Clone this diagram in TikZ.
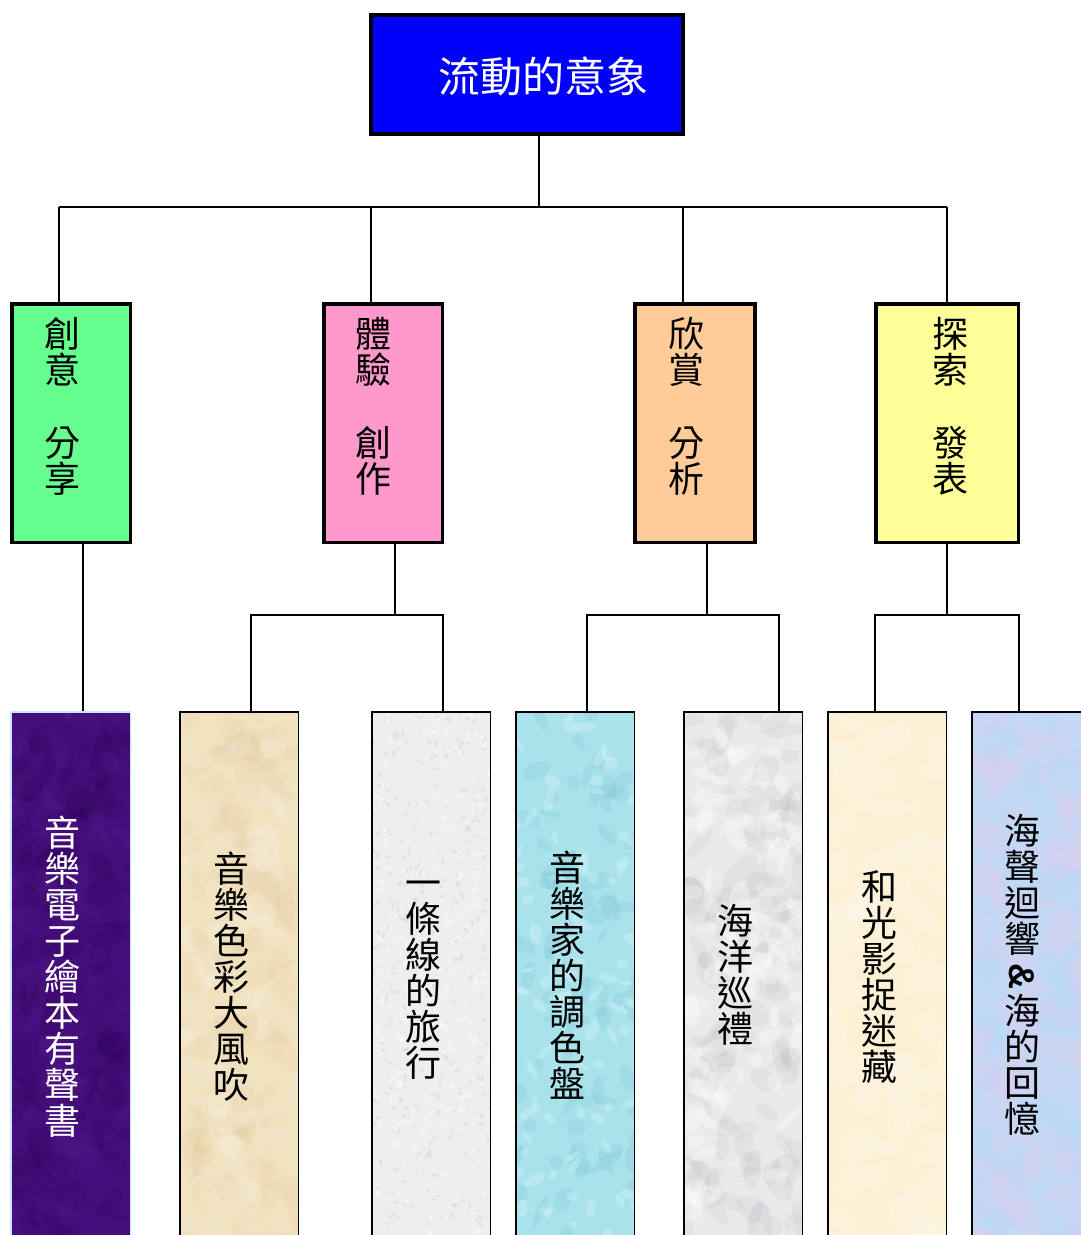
\documentclass[tikz,border=0pt]{standalone}
\usepackage{fontspec}
\newfontfamily\cjk{Noto Sans CJK TC}
\newfontfamily\latfont{Liberation Sans}
\definecolor{topblue}{RGB}{0,0,255}
\definecolor{cgreen}{RGB}{102,255,143}
\definecolor{cpink}{RGB}{255,153,204}
\definecolor{cpeach}{RGB}{255,204,153}
\definecolor{cyellow}{RGB}{255,255,153}
\definecolor{purpbase}{RGB}{70,14,124}
\definecolor{purpdark}{RGB}{40,0,82}
\definecolor{purplite}{RGB}{105,40,160}
\definecolor{beigebase}{RGB}{241,226,192}
\definecolor{beigedark}{RGB}{224,198,150}
\definecolor{granbase}{RGB}{238,238,238}
\definecolor{grandark}{RGB}{205,205,205}
\definecolor{aquabase}{RGB}{170,226,236}
\definecolor{aquadark}{RGB}{110,188,208}
\definecolor{aqualite}{RGB}{215,246,250}
\definecolor{marbbase}{RGB}{234,234,237}
\definecolor{marbdark}{RGB}{150,150,156}
\definecolor{creambase}{RGB}{253,240,212}
\definecolor{creamlite}{RGB}{255,249,236}
\definecolor{pastbase}{RGB}{198,215,244}
\definecolor{pastpink}{RGB}{232,200,238}
\definecolor{pastblue}{RGB}{175,222,250}
\definecolor{lowedge}{RGB}{200,230,250}
\tikzset{
  conn/.style={line width=1.8pt, black},
  topbox/.style={draw=black, line width=4pt, fill=topblue, minimum width=312pt, minimum height=119pt, inner sep=0pt},
  midbox/.style={draw=black, line width=3.5pt, minimum height=238.5pt, inner sep=0pt},
  lowbox/.style={draw=black, line width=1.5pt, minimum width=118.5pt, minimum height=531pt, inner sep=0pt},
  vtext/.style={font=\cjk\fontsize{36}{36}\selectfont, align=center, inner sep=0pt},
}
% texture helper: left x, width, colour, count, size, opacity
\newcommand\mottle[6]{%
  \begin{scope}
    \clip (#1,711) rectangle ({#1+#2},1243);
    \foreach \k in {1,...,#4}{
      \pgfmathsetmacro\px{#1+rnd*#2}
      \pgfmathsetmacro\py{711+rnd*532}
      \pgfmathsetmacro\rx{#5*(0.5+rnd)}
      \pgfmathsetmacro\ry{#5*(0.25+0.5*rnd)}
      \pgfmathsetmacro\ang{rnd*180}
      \fill[#3, opacity=#6, rotate around={\ang:(\px,\py)}] (\px,\py) ellipse [x radius=\rx pt, y radius=\ry pt];
    }
  \end{scope}}
\begin{document}
\begin{tikzpicture}[x=1pt,y=-1pt]
\useasboundingbox (0,0) rectangle (1081,1235);
\clip (0,0) rectangle (1081,1235);
\pgfmathsetseed{7}
% ---------- textured backgrounds of the lower boxes ----------
\fill[purpbase] (10,711) rectangle (131,1243);
\mottle{10}{121}{purpdark}{120}{22}{0.12}
\mottle{10}{121}{purplite}{80}{18}{0.1}
\fill[beigebase] (179,711) rectangle (299,1243);
\mottle{179}{120}{beigedark}{110}{20}{0.1}
\mottle{179}{120}{white}{80}{16}{0.12}
\fill[granbase] (371,711) rectangle (491,1243);
\mottle{371}{120}{grandark}{400}{2.5}{0.35}
\mottle{371}{120}{white}{250}{3}{0.45}
\fill[aquabase] (515,711) rectangle (635,1243);
\mottle{515}{120}{aquadark}{80}{12}{0.18}
\mottle{515}{120}{aqualite}{90}{8}{0.35}
\fill[marbbase] (683,711) rectangle (803,1243);
\mottle{683}{120}{marbdark}{120}{16}{0.09}
\mottle{683}{120}{white}{80}{14}{0.3}
\fill[creambase] (827,711) rectangle (947,1243);
\mottle{827}{120}{creamlite}{60}{20}{0.3}
\fill[pastbase] (971,711) rectangle (1091,1243);
\mottle{971}{120}{pastpink}{90}{20}{0.18}
\mottle{971}{120}{pastblue}{90}{20}{0.18}
% ---------- root ----------
\node[topbox] (root) at (527,74.5) {};
\node[font=\cjk\fontsize{42}{42}\selectfont, text=white, inner sep=0pt] (roottxt) at (543,76) {流動的意象};
% ---------- second level ----------
\node[midbox, fill=cgreen, minimum width=118.5pt] (m1) at (71,423) {};
\node[midbox, fill=cpink, minimum width=118.5pt] (m2) at (383,423) {};
\node[midbox, fill=cpeach, minimum width=120pt] (m3) at (695,423) {};
\node[midbox, fill=cyellow, minimum width=142.5pt] (m4) at (947,423) {};
\node[vtext, anchor=north] (t1) at (62,317) {創\\意\\[37pt]分\\享};
\node[vtext, anchor=north] (t2) at (373,317) {體\\驗\\[37pt]創\\作};
\node[vtext, anchor=north] (t3) at (686,317) {欣\\賞\\[37pt]分\\析};
\node[vtext, anchor=north] (t4) at (950,317) {探\\索\\[37pt]發\\表};
% ---------- lower level ----------
\node[lowbox, draw=lowedge, minimum width=119.5pt] (l1) at (70.5,977.4) {};
\node[lowbox] (l2) at (239,977.4) {};
\node[lowbox] (l3) at (431,977.4) {};
\node[lowbox] (l4) at (575,977.4) {};
\node[lowbox] (l5) at (743,977.4) {};
\node[lowbox] (l6) at (887,977.4) {};
\node[lowbox] (l7) at (1031,977.4) {};
\node[vtext, text=white] (u1) at (62,977) {音\\樂\\電\\子\\繪\\本\\有\\聲\\書};
\node[vtext] (u2) at (231,977) {音\\樂\\色\\彩\\大\\風\\吹};
\node[vtext] (u3) at (423,980) {一\\條\\線\\的\\旅\\行};
\node[vtext] (u4) at (567,975) {音\\樂\\家\\的\\調\\色\\盤};
\node[vtext] (u5) at (735,975) {海\\洋\\巡\\禮};
\node[vtext] (u6) at (879,977) {和\\光\\影\\捉\\迷\\藏};
\node[vtext] (u7) at (1022,975) {海\\聲\\迴\\響\\{\latfont\bfseries\rotatebox[origin=c]{-90}{\&}}\\海\\的\\回\\憶};
% ---------- connectors ----------
\coordinate (ra) at (539,207);
\coordinate (a1) at (59,207);
\coordinate (a2) at (371,207);
\coordinate (a3) at (683,207);
\coordinate (a4) at (947,207);
\draw[conn] (ra |- root.south) -- (ra);
\draw[conn] (a1) -- (a4);
\foreach \i in {1,...,4} \draw[conn] (a\i) -- (a\i |- m\i.north);
% first branch
\coordinate (d1) at (83,615);
\draw[conn] (d1 |- m1.south) -- (d1 |- l1.north);
% second branch
\coordinate (d2) at (395,615);
\coordinate (e2) at (251,615);
\coordinate (e3) at (443,615);
\draw[conn] (d2 |- m2.south) -- (d2);
\draw[conn] (e2 |- l2.north) |- (e3) -- (e3 |- l3.north);
% third branch
\coordinate (d3) at (707,615);
\coordinate (e4) at (587,615);
\coordinate (e5) at (779,615);
\draw[conn] (d3 |- m3.south) -- (d3);
\draw[conn] (e4 |- l4.north) |- (e5) -- (e5 |- l5.north);
% fourth branch
\coordinate (d4) at (947,615);
\coordinate (e6) at (875,615);
\coordinate (e7) at (1019,615);
\draw[conn] (d4 |- m4.south) -- (d4);
\draw[conn] (e6 |- l6.north) |- (e7) -- (e7 |- l7.north);
\end{tikzpicture}
\end{document}
